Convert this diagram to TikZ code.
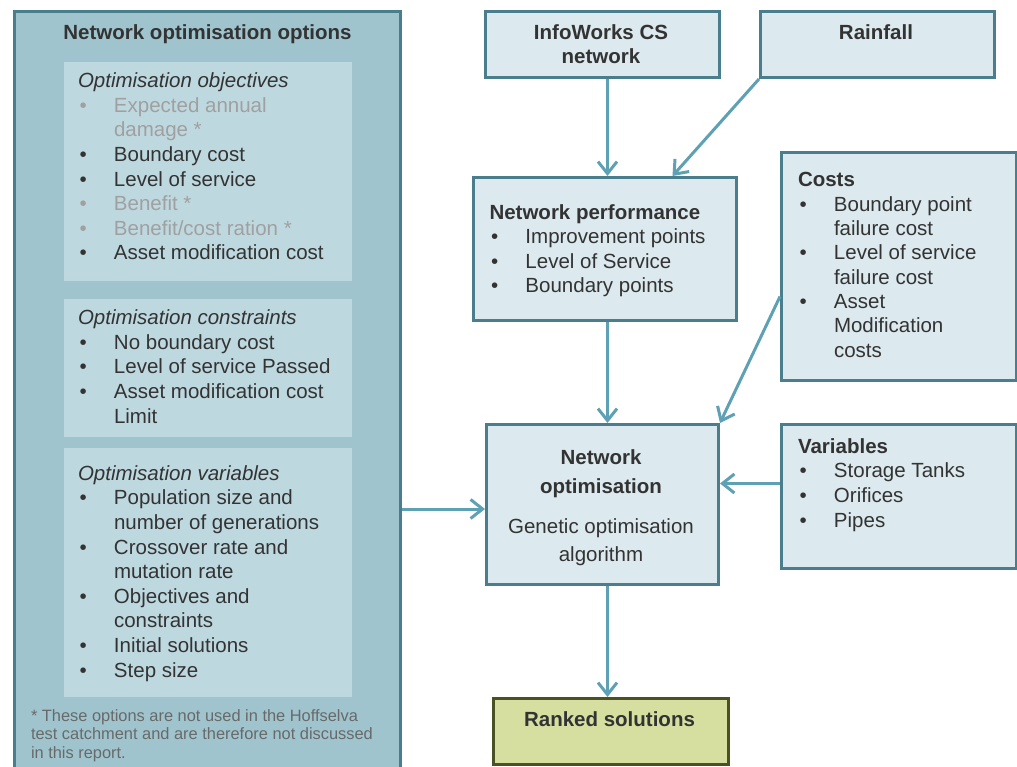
\documentclass[tikz,border=0pt]{standalone}
\usepackage{fontspec}
\setmainfont{Liberation Sans}
\usetikzlibrary{arrows.meta}
\definecolor{bigfill}{RGB}{159,196,206}
\definecolor{innerfill}{RGB}{190,216,223}
\definecolor{rfill}{RGB}{220,233,238}
\definecolor{bordc}{RGB}{74,126,140}
\definecolor{arrc}{RGB}{94,160,180}
\definecolor{rankfill}{RGB}{214,223,160}
\definecolor{rankbord}{RGB}{74,82,35}
\definecolor{textc}{RGB}{51,51,51}
\definecolor{graytxt}{RGB}{160,160,160}
\definecolor{footc}{RGB}{105,105,105}
\newcommand\bl[1]{\makebox[36pt][l]{\hspace{1.5pt}\textbullet}#1}
\newcommand\cl[1]{\hspace*{36pt}#1}
\tikzset{
  bigbox/.style={draw=bordc, fill=bigfill, line width=3pt, anchor=north west},
  inbox/.style={draw=none, fill=innerfill, anchor=north west},
  rbox/.style={draw=bordc, fill=rfill, line width=3pt, anchor=north west},
  rankbox/.style={draw=rankbord, fill=rankfill, line width=3pt, anchor=north west},
  txt/.style={anchor=base west, inner sep=0pt, outer sep=0pt, align=left, text=textc,
    font=\fontsize{20.5}{24.6}\selectfont},
  ctxt/.style={anchor=base, inner sep=0pt, outer sep=0pt, align=center, text=textc},
  foot/.style={anchor=base west, inner sep=0pt, outer sep=0pt, align=left, text=footc,
    font=\fontsize{16.4}{18.5}\selectfont},
  arr/.style={draw=arrc, line width=3pt, -{Straight Barb[length=12pt,width=19pt,line width=3pt]}}
}
\begin{document}
\begin{tikzpicture}[x=1pt,y=-1pt]
\useasboundingbox (0,0) rectangle (1017,767);
\clip (0,0) rectangle (1017,767);
% left panel
\node[bigbox, minimum width=386pt, minimum height=790pt] (opts) at (13,10) {};
\node[inbox, minimum width=288pt, minimum height=219pt] (in1) at (64,62) {};
\node[inbox, minimum width=288pt, minimum height=138pt] (in2) at (64,299) {};
\node[inbox, minimum width=288pt, minimum height=249pt] (in3) at (64,448) {};
\node[ctxt, font=\fontsize{20.5}{24.6}\selectfont\bfseries] (optstitle) at (207.5,40) {Network optimisation options};
% (base anchor of a multi-line node = baseline of its last line)
\node[txt] (objtxt) at (78,260) {{\itshape Optimisation objectives}\\
{\color{graytxt}\bl{Expected annual}}\\
{\color{graytxt}\cl{damage *}}\\
\bl{Boundary cost}\\
\bl{Level of service}\\
{\color{graytxt}\bl{Benefit *}}\\
{\color{graytxt}\bl{Benefit/cost ration *}}\\
\bl{Asset modification cost}};
\node[txt] (constxt) at (78,423) {{\itshape Optimisation constraints}\\
\bl{No boundary cost}\\
\bl{Level of service Passed}\\
\bl{Asset modification cost}\\
\cl{Limit}};
\node[txt] (vartxt) at (78,677) {{\itshape Optimisation variables}\\
\bl{Population size and}\\
\cl{number of generations}\\
\bl{Crossover rate and}\\
\cl{mutation rate}\\
\bl{Objectives and}\\
\cl{constraints}\\
\bl{Initial solutions}\\
\bl{Step size}};
\node[foot] (foottxt) at (31,758) {* These options are not used in the Hoffselva\\
test catchment and are therefore not discussed\\
in this report.};
% right side boxes
\node[rbox, minimum width=234pt, minimum height=66pt] (info) at (484,10) {};
\node[rbox, minimum width=234pt, minimum height=66pt] (rain) at (759,10) {};
\node[rbox, minimum width=263pt, minimum height=143pt] (np) at (472,176) {};
\node[rbox, minimum width=235pt, minimum height=228pt] (costs) at (780,151) {};
\node[rbox, minimum width=232pt, minimum height=160pt] (no) at (485,423) {};
\node[rbox, minimum width=235pt, minimum height=144pt] (vars) at (780,423) {};
\node[rankbox, minimum width=235pt, minimum height=66pt] (rank) at (492,697) {};
% texts
\node[ctxt, font=\fontsize{20.5}{24}\selectfont\bfseries] (infotxt) at (601,64) {InfoWorks CS\\network};
\node[ctxt, font=\fontsize{20.5}{24}\selectfont\bfseries] (raintxt) at (876,40) {Rainfall};
\node[txt] (nptxt) at (489.5,293) {\textbf{Network performance}\\
\bl{Improvement points}\\
\bl{Level of Service}\\
\bl{Boundary points}};
\node[txt, font=\fontsize{20.5}{24.3}\selectfont] (coststxt) at (798,357) {\textbf{Costs}\\
\bl{Boundary point}\\
\cl{failure cost}\\
\bl{Level of service}\\
\cl{failure cost}\\
\bl{Asset}\\
\cl{Modification}\\
\cl{costs}};
\node[txt] (varstxt) at (798,527) {\textbf{Variables}\\
\bl{Storage Tanks}\\
\bl{Orifices}\\
\bl{Pipes}};
\node[ctxt, font=\fontsize{20.5}{29}\selectfont\bfseries] (notitle) at (601,493) {Network\\optimisation};
\node[ctxt, font=\fontsize{20.5}{28}\selectfont] (notxt) at (601,561) {Genetic optimisation\\algorithm};
\node[ctxt, font=\fontsize{20.5}{24}\selectfont\bfseries] (ranktxt) at (609.5,726) {Ranked solutions};
% connectors
\coordinate (a1) at ([xshift=5pt]info.south);
\draw[arr] (a1) -- (a1 |- np.north);
\coordinate (a2) at ([xshift=67.5pt]np.north);
\draw[arr] (rain.south west) -- (a2);
\coordinate (a3) at ([xshift=2.5pt]np.south);
\draw[arr] (a3) -- (a3 |- no.north);
\coordinate (a4) at ([yshift=-30pt]costs.west);
\draw[arr] (a4) -- (no.north east);
\coordinate (a5) at ([yshift=13pt]vars.west);
\draw[arr] (a5) -- (a5 -| no.east);
\coordinate (a6) at (opts.east |- 0,509);
\draw[arr] (a6) -- (a6 -| no.west);
\coordinate (a7) at ([xshift=5pt]no.south);
\draw[arr] (a7) -- (a7 |- rank.north);
\end{tikzpicture}
\end{document}
